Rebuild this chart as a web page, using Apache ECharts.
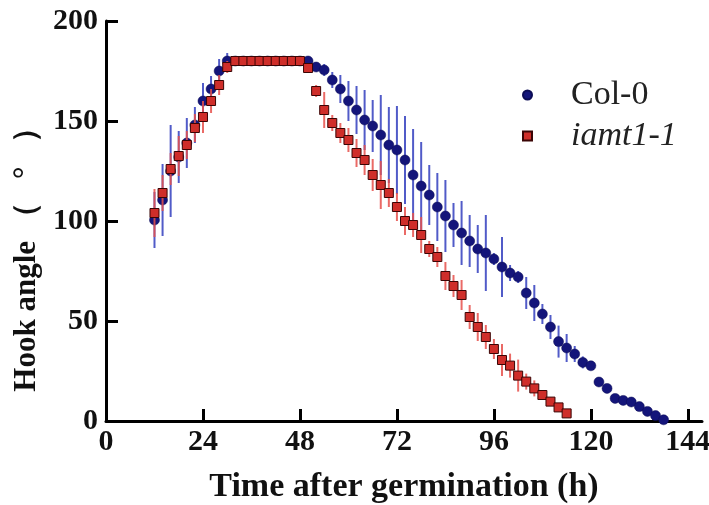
<!DOCTYPE html>
<html><head><meta charset="utf-8">
<script src="https://cdn.jsdelivr.net/npm/echarts@6/dist/echarts.min.js"></script>
<style>html,body{margin:0;padding:0;background:#fff}#c{width:709px;height:505px}</style>
</head><body><div id="c"></div>
<script>
const xTicks = [0, 24, 48, 72, 96, 120, 144];
const yTicks = [0, 50, 100, 150, 200];

const colHours = [12,14,16,18,20,22,24,26,28,30,32,34,36,38,40,42,44,46,48,50,52,54,56,58,60,62,64,66,68,70,72,74,76,78,80,82,84,86,88,90,92,94,96,98,100,102,104,106,108,110,112,114,116,118,120,122,124,126,128,130,132,134,136,138];
const colMean = [100.5,110.5,125,132,139,148,160,166,175,180,180,180,180,180,180,180,180,180,180,180,177,175.5,170.5,166,160,155.5,150.5,147.5,143,138,135.5,130.5,123,117.5,113,107,102.5,98,94,90,86,84,81,77,74,72,64,59,53.5,47,39.7,36.5,33.5,29.3,27.6,19.5,16.3,11.3,10.3,9.5,7.2,4.8,2.7,0.6];
const colErr = [14,18,23,13,12.5,9,9,6.5,6,4,0,0,0,0,0,0,0,0,0,0,2,3,4,7,10,12,15,13,20,19,22,22,23,22,15,17,18,11,16,13,12,19,3,15,4,3,8,9,5,6,8,7,4,3,1,2,2,1,1,1,1,1,1,0];

const iamtHours = [12,14,16,18,20,22,24,26,28,30,32,34,36,38,40,42,44,46,48,50,52,54,56,58,60,62,64,66,68,70,72,74,76,78,80,82,84,86,88,90,92,94,96,98,100,102,104,106,108,110,112,114];
const iamtMean = [104,114,126,132.5,138,146.5,152,160,168,177,180,180,180,180,180,180,180,180,180,176.5,165,155.5,149,144,140.5,134,130.5,123,118,114,107,100,98,93,86,82,72.5,67.5,63,52,47,42,36,30.5,27.7,22.7,19.7,16.3,13,9.7,6.8,3.8];
const iamtErr = [12,9,8,10,7,7,8,6,5,3,0,0,0,0,0,0,0,0,0,2,3,9,4,5,6,7,7.5,8,12,7,7,7,6,9,4,5,7,5.5,7.5,6,7,6,5,8,6,8,4,4,2,2,2,1];

const seriesNames = ['Col-0', 'iamt1-1'];

function pts(h, m) { return h.map((x, i) => [x, m[i]]); }
function bars(h, m, e) { return h.map((x, i) => [x, m[i] - e[i], m[i] + e[i]]); }
function errRender(color) {
  return function (params, api) {
    const p1 = api.coord([api.value(0), api.value(1)]);
    const p2 = api.coord([api.value(0), api.value(2)]);
    return { type: 'line', shape: { x1: p1[0], y1: p1[1], x2: p2[0], y2: p2[1] },
      style: { stroke: color, lineWidth: 2 } };
  };
}

const serif = '"Liberation Serif","Times New Roman",serif';
const chart = echarts.init(document.getElementById('c'), null, { renderer: 'canvas' });
chart.setOption({
  animation: false,
  backgroundColor: '#ffffff',
  grid: { left: 106, right: 7, top: 21, bottom: 84, containLabel: false, outerBoundsMode: 'none' },
  legend: {
    orient: 'vertical', left: 517, top: 73, itemGap: 7,
    itemWidth: 9, itemHeight: 9,
    textStyle: { fontFamily: serif, fontSize: 34, color: '#222', padding: [0, 0, 0, 34] },
    data: [{ name: seriesNames[0] }, { name: seriesNames[1], textStyle: { fontStyle: 'italic' } }]
  },
  xAxis: {
    type: 'value', min: 0, max: 147.5,
    name: 'Time after germination (h)', nameLocation: 'middle', nameGap: 49,
    nameTextStyle: { fontFamily: serif, fontWeight: 'bold', fontSize: 34, color: '#111' },
    axisLine: { lineStyle: { color: '#000', width: 3 } },
    axisTick: { inside: true, length: 12, lineStyle: { width: 3, color: '#000' }, customValues: xTicks },
    axisLabel: { fontFamily: serif, fontWeight: 'bold', fontSize: 30, color: '#111', margin: 6, customValues: xTicks },
    splitLine: { show: false }
  },
  yAxis: {
    type: 'value', min: 0, max: 200, interval: 50,
    name: 'Hook angle （   °   ）', nameLocation: 'middle', nameGap: 64, nameRotate: 90,
    nameTextStyle: { fontFamily: serif, fontWeight: 'bold', fontSize: 31, color: '#111', padding: [0, 62, 0, 0] },
    axisLine: { show: true, lineStyle: { color: '#000', width: 3 } },
    axisTick: { show: true, inside: true, length: 12, lineStyle: { width: 3, color: '#000' } },
    axisLabel: { fontFamily: serif, fontWeight: 'bold', fontSize: 30, color: '#111', margin: 8 },
    splitLine: { show: false }
  },
  series: [
    { type: 'custom', name: 'colErr', renderItem: errRender('rgba(50,62,190,0.85)'),
      data: bars(colHours, colMean, colErr), encode: { x: 0, y: [1, 2] }, z: 2, silent: true },
    { type: 'scatter', name: seriesNames[0], data: pts(colHours, colMean), symbol: 'circle', symbolSize: 10,
      itemStyle: { color: '#14157a', borderColor: '#0c0c55', borderWidth: 0.5, opacity: 1 }, z: 3 },
    { type: 'custom', name: 'iamtErr', renderItem: errRender('rgba(230,80,75,0.85)'),
      data: bars(iamtHours, iamtMean, iamtErr), encode: { x: 0, y: [1, 2] }, z: 4, silent: true },
    { type: 'scatter', name: seriesNames[1], data: pts(iamtHours, iamtMean), symbol: 'rect', symbolSize: 9,
      itemStyle: { color: '#cf2e2a', borderColor: '#3a0505', borderWidth: 1, opacity: 1 }, z: 5 }
  ]
});
</script></body></html>
